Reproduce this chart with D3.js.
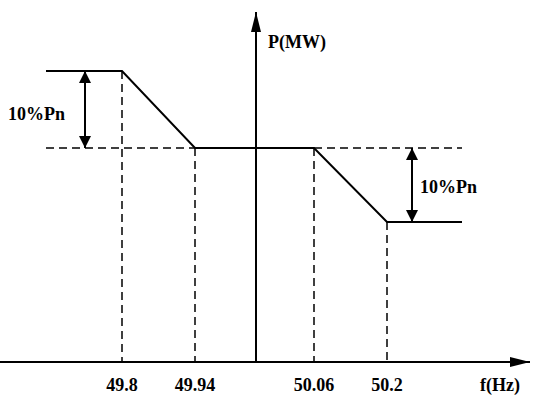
<!DOCTYPE html>
<html><head><meta charset="utf-8">
<script src="https://cdn.jsdelivr.net/npm/d3@7"></script>
<style>body{margin:0;background:#fff}text{font-family:"Liberation Serif",serif;font-weight:bold;font-size:18px}</style>
</head><body><svg id="chart"></svg>
<script>
// Frequency breakpoints and power levels (per unit of Pn)
const freqs = [49.8, 49.94, 50.06, 50.2];
const tickLabels = ["49.8", "49.94", "50.06", "50.2"];
const curveF = [49.7, 49.8, 49.94, 50.06, 50.2, 50.3];
const curveP = [1.1, 1.1, 1.0, 1.0, 0.9, 0.9];

const width = 550, height = 406;
const svg = d3.select("#chart").attr("width", width).attr("height", height);

const x = d3.scaleLinear().domain([49.7, 49.8, 49.94, 50.0, 50.06, 50.2, 50.3])
  .range([46, 122, 195, 256, 314, 387, 462]);
const y = d3.scaleLinear().domain([0, 0.9, 1.0, 1.1]).range([362, 222, 148, 71]);

const defs = svg.append("defs");
defs.append("marker").attr("id", "ah").attr("viewBox", "0 0 12 12").attr("refX", 12).attr("refY", 6)
  .attr("markerWidth", 12).attr("markerHeight", 12).attr("markerUnits", "userSpaceOnUse").attr("orient", "auto-start-reverse")
  .append("path").attr("d", "M0,0L12,6L0,12Z").attr("fill", "#000");
defs.append("marker").attr("id", "ax").attr("viewBox", "0 0 20 10").attr("refX", 20).attr("refY", 5)
  .attr("markerWidth", 20).attr("markerHeight", 10).attr("markerUnits", "userSpaceOnUse").attr("orient", "auto")
  .append("path").attr("d", "M0,0L20,5L0,10Z").attr("fill", "#000");

// axes
svg.append("line").attr("x1", 0).attr("x2", 530).attr("y1", y(0)).attr("y2", y(0))
  .attr("stroke", "#000").attr("stroke-width", 2).attr("marker-end", "url(#ax)");
svg.append("line").attr("x1", x(50.0)).attr("x2", x(50.0)).attr("y1", y(0)).attr("y2", 12)
  .attr("stroke", "#000").attr("stroke-width", 2).attr("marker-end", "url(#ax)");

// dashed guides
const dl = (x1, y1, x2, y2) => svg.append("line")
  .attr("x1", x1).attr("y1", y1).attr("x2", x2).attr("y2", y2)
  .attr("stroke", "#000").attr("stroke-width", 1.5).attr("stroke-dasharray", "8,5");
const levels = [1.1, 1.0, 1.0, 0.9];
freqs.forEach((f, i) => dl(x(f), y(levels[i]), x(f), y(0)));
dl(x(49.7), y(1.0), x(49.94), y(1.0));
dl(x(50.06), y(1.0), x(50.3), y(1.0));

// curve
svg.append("path").datum(curveF.map((f, i) => [f, curveP[i]]))
  .attr("d", d3.line().x(d => x(d[0])).y(d => y(d[1])))
  .attr("fill", "none").attr("stroke", "#000").attr("stroke-width", 2);

// double arrows
[[85, 1.1, 1.0], [412, 1.0, 0.9]].forEach(([px, a, b]) => {
  svg.append("line").attr("x1", px).attr("x2", px).attr("y1", y(a)).attr("y2", y(b))
    .attr("stroke", "#000").attr("stroke-width", 2)
    .attr("marker-start", "url(#ah)").attr("marker-end", "url(#ah)");
});
svg.append("text").attr("x", 8).attr("y", 120).text("10%Pn");
svg.append("text").attr("x", 420).attr("y", 193).text("10%Pn");

// tick labels
svg.selectAll(".tl").data(freqs).enter().append("text")
  .attr("x", d => x(d)).attr("y", 391).attr("text-anchor", "middle")
  .text((d, i) => tickLabels[i]);
svg.append("text").attr("x", 500).attr("y", 391).attr("text-anchor", "middle").text("f(Hz)");
svg.append("text").attr("x", 268).attr("y", 48).text("P(MW)");
</script></body></html>
